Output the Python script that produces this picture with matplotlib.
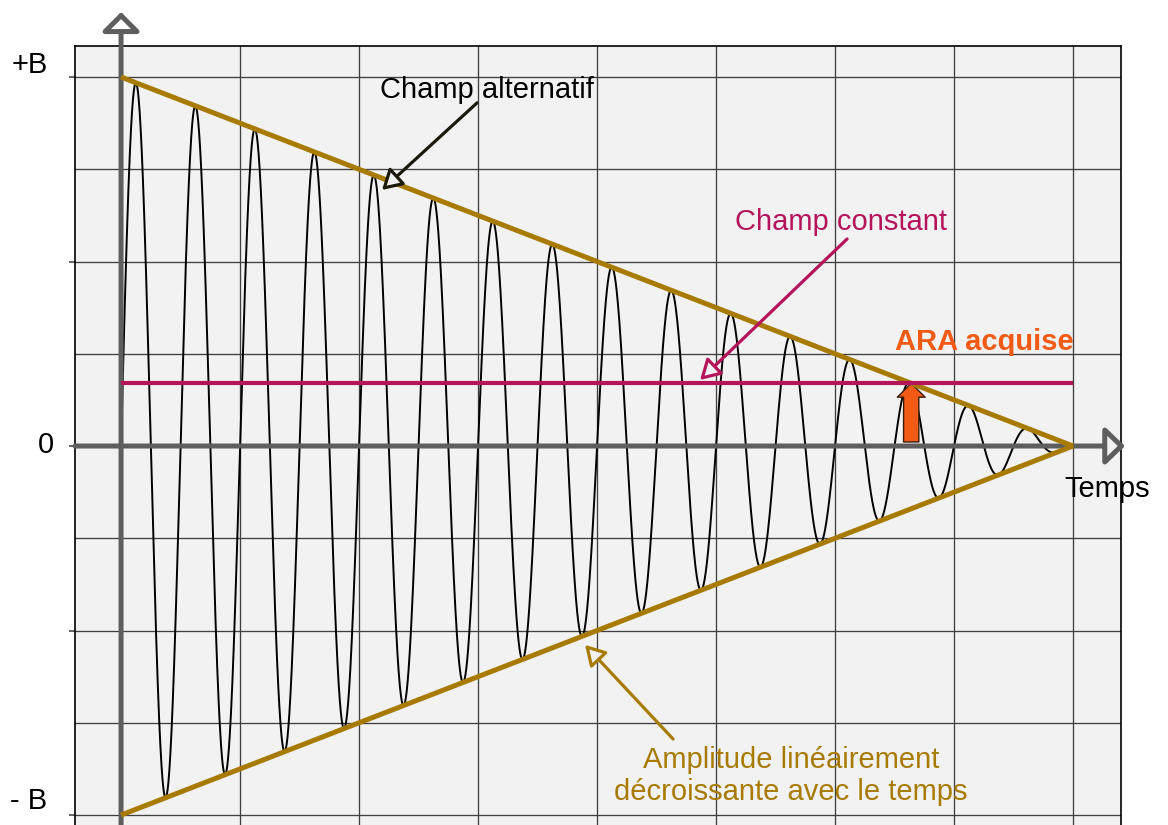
import numpy as np
import matplotlib
matplotlib.use("Agg")
import matplotlib.pyplot as plt
from matplotlib.patches import FancyArrowPatch

plt.rcParams['font.family'] = ['Liberation Sans', 'DejaVu Sans']

# ---- data ----
B = 1.0                 # amplitude of the alternating field at t=0
t_end = 8.0             # time when the amplitude reaches zero
n_cycles = 16           # number of oscillations over the decay
constant_field = 0.17   # level of the constant field (fraction of B)
x_grid = [0, 1, 2, 3, 4, 5, 6, 7, 8]
y_grid = [-1.0, -0.75, -0.5, -0.25, 0.0, 0.25, 0.5, 0.75, 1.0]
y_ticks = [-1.0, -0.5, 0.0, 0.5, 1.0]
label_alt = "Champ alternatif"
label_const = "Champ constant"
label_ara = "ARA acquise"
label_amp_lines = ["Amplitude linéairement", "décroissante avec le temps"]
label_time = "Temps"
label_top, label_zero, label_bottom = "+B", "0", "- B"

# ---- colours ----
gold = '#A87B00'
magenta = '#B5145A'
orange = '#F25A16'
axis_grey = '#5e5e5e'
bg = '#f2f2f2'

W, H = 1168, 825
fig = plt.figure(figsize=(W / 100, H / 100), dpi=100)
ax = fig.add_axes([75 / W, 0, (1121 - 75) / W, (825 - 46) / H])
ax.set_facecolor(bg)
ax.set_xlim(-0.387, 8.403)
ax.set_ylim(-1.027, 1.084)

# grid
for gx in x_grid:
    ax.axvline(gx, color='#404040', lw=0.95, zorder=1)
for gy in y_grid:
    ax.axhline(gy, color='#404040', lw=0.95, zorder=1)
ax.set_xticks([])
ax.set_yticks(y_ticks)
ax.set_yticklabels([])
ax.tick_params(axis='y', length=4.5, width=1.2, color='#4a4a4a', direction='out')
for s in ax.spines.values():
    s.set_color('black')
    s.set_linewidth(1.2)
ax.spines['bottom'].set_visible(False)

# alternating field
t = np.linspace(0, t_end, 4000)
envelope = B * (1 - t / t_end)
signal = envelope * np.sin(2 * np.pi * n_cycles / t_end * t)
ax.plot(t, signal, color='black', lw=1.4, zorder=3)

# axes arrows
ax.annotate('', xy=(0, 1.176), xytext=(0, -1.03), annotation_clip=False,
            arrowprops=dict(arrowstyle='-|>,head_length=11.5,head_width=11.5',
                            mutation_scale=1, lw=3.6, color=axis_grey,
                            fc='white', shrinkA=0, shrinkB=0), zorder=5)
ax.annotate('', xy=(8.437, 0), xytext=(-0.387, 0), annotation_clip=False,
            arrowprops=dict(arrowstyle='-|>,head_length=12,head_width=11.5',
                            mutation_scale=1, lw=3.6, color=axis_grey,
                            fc=bg, shrinkA=0, shrinkB=0), zorder=5)

# envelope
ax.plot([0, t_end], [B, 0], color=gold, lw=3.6, solid_capstyle='butt', zorder=6)
ax.plot([0, t_end], [-B, 0], color=gold, lw=3.6, solid_capstyle='butt', zorder=6)

# constant field
ax.plot([0, t_end], [constant_field, constant_field], color=magenta, lw=3.0,
        solid_capstyle='butt', zorder=6)

# ARA arrow
t_ara = t_end * (1 - constant_field / B)
ara = FancyArrowPatch((t_ara, 0.011), (t_ara, constant_field),
                      arrowstyle='simple,head_length=10,head_width=20,tail_width=11',
                      mutation_scale=1, fc=orange, ec='#3a1d08', lw=1.0,
                      shrinkA=0, shrinkB=0, zorder=5)
ax.add_patch(ara)

# annotation arrows
def pointer(start, tip, col):
    ax.annotate('', xy=tip, xytext=start,
                arrowprops=dict(arrowstyle='-|>,head_length=12,head_width=7',
                                mutation_scale=1, lw=2.3, color=col, fc=bg,
                                shrinkA=0, shrinkB=0), zorder=7)

pointer((2.992, 0.930), (2.193, 0.694), '#1c1a0a')
pointer((6.101, 0.561), (4.866, 0.179), magenta)
pointer((4.639, -0.794), (3.899, -0.539), gold)

fs = 21
ax.text(2.176, 0.943, label_alt, fontsize=fs, color='black', va='baseline', ha='left', zorder=8)
ax.text(5.16, 0.585, label_const, fontsize=fs, color=magenta, va='baseline', ha='left', zorder=8)
ax.text(6.504, 0.260, label_ara, fontsize=fs, color=orange, fontweight='bold',
        va='baseline', ha='left', zorder=8)
ax.text(7.93, -0.138, label_time, fontsize=fs, color='black', va='baseline', ha='left',
        zorder=8, clip_on=False)
for line, yb in zip(label_amp_lines, [-0.873, -0.959]):
    ax.text(5.63, yb, line, fontsize=fs, color=gold, va='baseline', ha='center', zorder=8)
ax.text(-0.916, 1.011, label_top, fontsize=fs, color='black', va='baseline', ha='left')
ax.text(-0.634, -0.019, label_zero, fontsize=fs, color='black', va='baseline', ha='center')
ax.text(-0.933, -0.984, label_bottom, fontsize=fs, color='black', va='baseline', ha='left')

fig.savefig('out.png', dpi=100, facecolor='white')
